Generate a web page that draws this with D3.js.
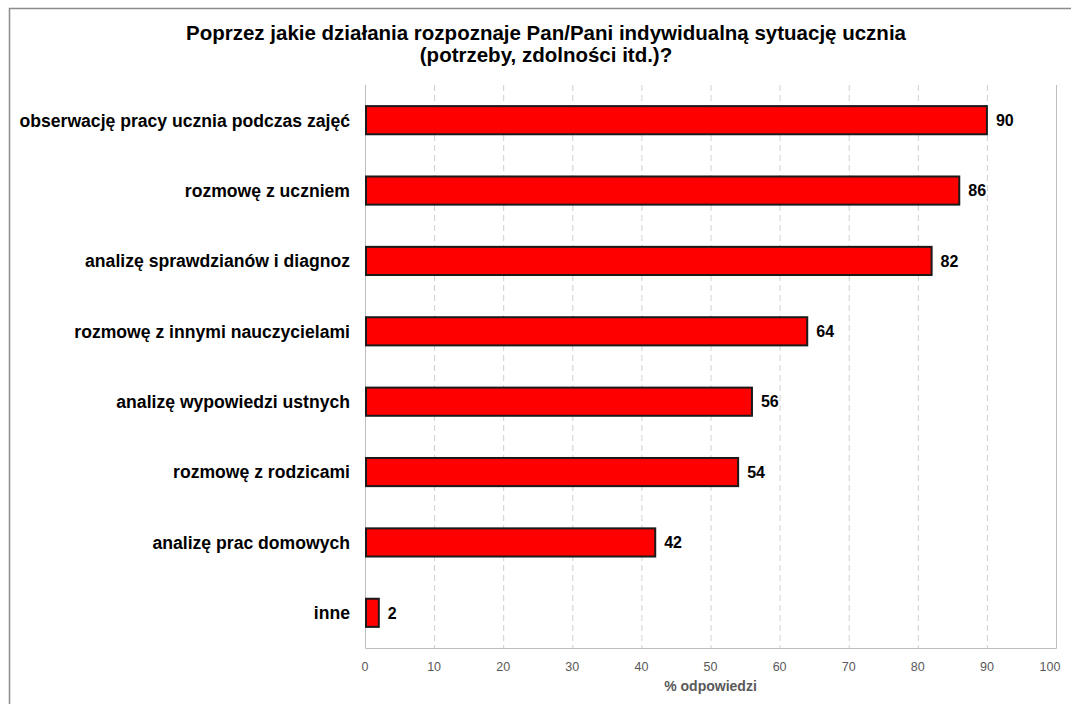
<!DOCTYPE html>
<html>
<head>
<meta charset="utf-8">
<script src="https://cdn.jsdelivr.net/npm/d3@7"></script>
<style>
  body { margin: 0; background: #fff; }
  text { font-family: "Liberation Sans", Arial, sans-serif; }
</style>
</head>
<body>
<div class="chart"></div>
<script>
// data
let categories = [
  "obserwację pracy ucznia podczas zajęć",
  "rozmowę z uczniem",
  "analizę sprawdzianów i diagnoz",
  "rozmowę z innymi nauczycielami",
  "analizę wypowiedzi ustnych",
  "rozmowę z rodzicami",
  "analizę prac domowych",
  "inne"
];
let values = [90, 86, 82, 64, 56, 54, 42, 2];
let xTicks = [0, 10, 20, 30, 40, 50, 60, 70, 80, 90, 100];
let titleLines = [
  "Poprzez jakie działania rozpoznaje Pan/Pani indywidualną sytuację ucznia",
  "(potrzeby, zdolności itd.)?"
];
let axisTitle = "% odpowiedzi";

let width = 1071;
let height = 704;
let margin = {left: 365, right: 15, top: 85, bottom: 56};

let svg = d3.select(".chart")
  .append("svg")
  .attr("width", width)
  .attr("height", height);

// outer frame
svg.append("rect")
  .attr("x", 9.5)
  .attr("y", 8.5)
  .attr("width", 1100)
  .attr("height", 740)
  .attr("fill", "none")
  .attr("stroke", "#8c8c8c")
  .attr("stroke-width", 1.5);

let x = d3.scaleLinear().domain([0, 100]).range([margin.left, width - margin.right]);
let y = d3.scaleBand().domain(categories).range([margin.top, height - margin.bottom]).paddingInner(0.6).paddingOuter(0.3);

// title
svg.append("text")
  .attr("text-anchor", "middle")
  .attr("font-size", 20.5)
  .attr("font-weight", "bold")
  .selectAll("tspan")
  .data(titleLines)
  .enter().append("tspan")
  .attr("x", 546)
  .attr("y", function(d, i) { return 40 + i * 22; })
  .text(String);

// gridlines
svg.append("g")
  .selectAll("line")
  .data(xTicks.slice(1, -1))
  .enter().append("line")
  .attr("x1", function(d) { return x(d) + 0.5; })
  .attr("x2", function(d) { return x(d) + 0.5; })
  .attr("y1", margin.top)
  .attr("y2", height - margin.bottom)
  .attr("stroke", "#cfcfcf")
  .attr("stroke-width", 1)
  .attr("stroke-dasharray", "6,4");

// right border & bottom axis & left axis
let x0 = Math.round(x(0)) + 0.5;
let x100 = Math.round(x(100)) + 0.5;
let yb = height - margin.bottom + 0.5;
svg.append("line").attr("x1", x100).attr("x2", x100).attr("y1", margin.top).attr("y2", yb)
  .attr("stroke", "#bdbdbd");
svg.append("line").attr("x1", x0).attr("x2", x100).attr("y1", yb).attr("y2", yb)
  .attr("stroke", "#bdbdbd");
svg.append("line").attr("x1", x0).attr("x2", x0).attr("y1", margin.top).attr("y2", yb)
  .attr("stroke", "#bdbdbd");

// tick labels
svg.append("g")
  .selectAll("text")
  .data(xTicks)
  .enter().append("text")
  .attr("x", function(d) { return d == 100 ? x(d) - 6 : x(d); })
  .attr("y", height - margin.bottom + 23)
  .attr("text-anchor", "middle")
  .attr("font-size", 12.5)
  .attr("fill", "#595959")
  .text(String);

svg.append("text")
  .attr("x", (x(0) + x(100)) / 2)
  .attr("y", 691)
  .attr("text-anchor", "middle")
  .attr("font-size", 14)
  .attr("font-weight", "bold")
  .attr("fill", "#595959")
  .text(axisTitle);

let data = categories.map(function(c, i) { return {name: c, value: values[i]}; });

// bars
svg.append("g")
  .selectAll("rect")
  .data(data)
  .enter().append("rect")
  .attr("x", x(0) + 1)
  .attr("y", function(d) { return y(d.name); })
  .attr("width", function(d) { return x(d.value) - x(0) - 1; })
  .attr("height", y.bandwidth())
  .attr("fill", "#ff0000")
  .attr("stroke", "#1a1a1a")
  .attr("stroke-width", 2);

// value labels
svg.append("g")
  .selectAll("text")
  .data(data)
  .enter().append("text")
  .attr("x", function(d) { return x(d.value) + 9; })
  .attr("y", function(d) { return y(d.name) + y.bandwidth() / 2; })
  .attr("dy", "0.36em")
  .attr("font-size", 16)
  .attr("font-weight", "bold")
  .text(function(d) { return d.value; });

// category labels
svg.append("g")
  .selectAll("text")
  .data(data)
  .enter().append("text")
  .attr("x", x(0) - 15)
  .attr("y", function(d) { return y(d.name) + y.bandwidth() / 2; })
  .attr("dy", "0.36em")
  .attr("text-anchor", "end")
  .attr("font-size", 17.6)
  .attr("font-weight", "bold")
  .text(function(d) { return d.name; });
</script>
</body>
</html>
